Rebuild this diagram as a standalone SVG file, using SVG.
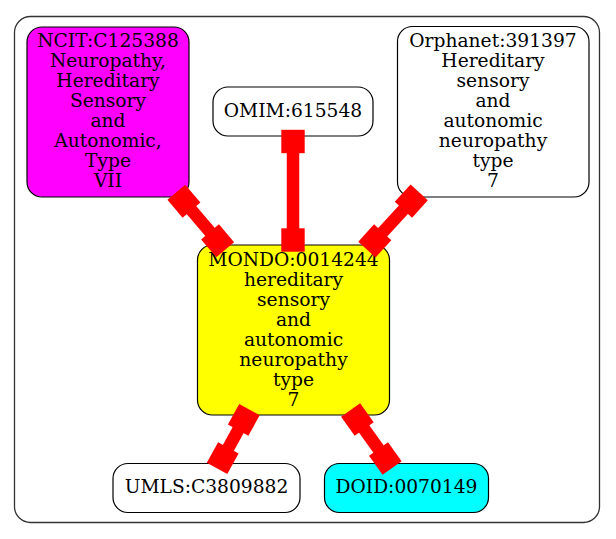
<svg xmlns="http://www.w3.org/2000/svg" xmlns:xlink="http://www.w3.org/1999/xlink" width="616" height="539" viewBox="0 0 616 539">
<style>
text{font-family:"DejaVu Serif","Liberation Serif",serif;font-size:18.67px;text-anchor:middle;fill:#000}
.n{stroke:#000;stroke-width:1.2}
.cl{fill:none;stroke:#333;stroke-width:1.3}
.e{stroke:#ff0000;stroke-width:12.5;fill:none}
.b{fill:#ff0000}
</style>
<defs>
<rect id="bx" class="b" x="-11.7" y="-11.7" width="23.4" height="23.4"/>
</defs>
<rect class="cl" x="14.5" y="16.5" width="585" height="506" rx="16"/>
<g id="ncit">
<rect class="n" x="27" y="27" width="162" height="170" rx="15" fill="#ff00ff"/>
<text x="108" y="47">NCIT:C125388</text>
<text x="108" y="67">Neuropathy,</text>
<text x="108" y="87">Hereditary</text>
<text x="108" y="107">Sensory</text>
<text x="108" y="127">and</text>
<text x="108" y="147">Autonomic,</text>
<text x="108" y="167">Type</text>
<text x="108" y="187">VII</text>
</g>
<g id="omim">
<rect class="n" x="213" y="87" width="160" height="49" rx="15" fill="#fff"/>
<text x="293" y="117.3">OMIM:615548</text>
</g>
<g id="orphanet">
<rect class="n" x="397.5" y="26.5" width="191.5" height="170.5" rx="15" fill="#fff"/>
<text x="493" y="47">Orphanet:391397</text>
<text x="493" y="67">Hereditary</text>
<text x="493" y="87">sensory</text>
<text x="493" y="107">and</text>
<text x="493" y="127">autonomic</text>
<text x="493" y="147">neuropathy</text>
<text x="493" y="167">type</text>
<text x="493" y="187">7</text>
</g>
<g id="mondo">
<rect class="n" x="197.5" y="245" width="192" height="170" rx="15" fill="#ffff00"/>
<text x="293.5" y="265.7">MONDO:0014244</text>
<text x="293.5" y="285.7">hereditary</text>
<text x="293.5" y="305.7">sensory</text>
<text x="293.5" y="325.7">and</text>
<text x="293.5" y="345.7">autonomic</text>
<text x="293.5" y="365.7">neuropathy</text>
<text x="293.5" y="385.7">type</text>
<text x="293.5" y="405.7">7</text>
</g>
<g id="umls">
<rect class="n" x="113" y="463.5" width="187" height="49" rx="15" fill="#fff"/>
<text x="206.5" y="493">UMLS:C3809882</text>
</g>
<g id="doid">
<rect class="n" x="324.5" y="463.5" width="164" height="49" rx="15" fill="#00ffff"/>
<text x="406.5" y="493">DOID:0070149</text>
</g>
<g id="connectors">
<line class="e" x1="293" y1="141.5" x2="293" y2="240"/>
<use xlink:href="#bx" transform="translate(293,141.5)"/>
<use xlink:href="#bx" transform="translate(293,240)"/>
<line class="e" x1="183.9" y1="201.2" x2="217.6" y2="240.8"/>
<use xlink:href="#bx" transform="translate(183.9,201.2) rotate(49.6)"/>
<use xlink:href="#bx" transform="translate(217.6,240.8) rotate(49.6)"/>
<line class="e" x1="411.3" y1="201.1" x2="374.8" y2="240.9"/>
<use xlink:href="#bx" transform="translate(411.3,201.1) rotate(132.4)"/>
<use xlink:href="#bx" transform="translate(374.8,240.9) rotate(132.4)"/>
<line class="e" x1="243.8" y1="419.8" x2="222.7" y2="458.2"/>
<use xlink:href="#bx" transform="translate(243.8,419.8) rotate(118.9)"/>
<use xlink:href="#bx" transform="translate(222.7,458.2) rotate(118.9)"/>
<line class="e" x1="357.4" y1="419.5" x2="385.3" y2="458.5"/>
<use xlink:href="#bx" transform="translate(357.4,419.5) rotate(54.5)"/>
<use xlink:href="#bx" transform="translate(385.3,458.5) rotate(54.5)"/>
</g>
</svg>
